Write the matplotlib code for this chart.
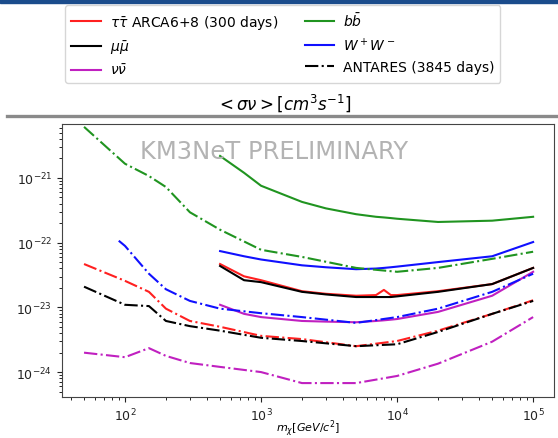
import numpy as np
import matplotlib
matplotlib.use('Agg')
import matplotlib.pyplot as plt
from matplotlib.lines import Line2D
from matplotlib.patches import Rectangle

# ARCA6+8 (300 days) limits, log10 of <sigma v> in cm^3 s^-1
m_arca = [500, 750, 1000, 2000, 3000, 5000, 7000, 8000, 9000, 10000, 20000, 50000, 100000]
arca_tau = [-22.33, -22.52, -22.58, -22.75, -22.79, -22.82, -22.81, -22.73, -22.81, -22.81, -22.75, -22.64, -22.39]
arca_mu = [-22.36, -22.58, -22.61, -22.76, -22.80, -22.84, -22.84, -22.84, -22.84, -22.83, -22.76, -22.64, -22.39]
arca_nu = [-22.96, -23.10, -23.15, -23.21, -23.22, -23.23, -23.21, -23.20, -23.19, -23.18, -23.07, -22.82, -22.45]
arca_b = [-20.66, -20.92, -21.12, -21.37, -21.47, -21.56, -21.60, -21.61, -21.62, -21.63, -21.68, -21.66, -21.60]
arca_w = [-22.13, -22.21, -22.26, -22.35, -22.38, -22.41, -22.40, -22.39, -22.38, -22.37, -22.30, -22.21, -21.99]

# ANTARES (3845 days)
m_ant = [50, 100, 150, 200, 300, 500, 1000, 2000, 5000, 10000, 20000, 50000, 100000]
m_ant_w = [90, 100, 150, 200, 300, 500, 1000, 2000, 5000, 10000, 20000, 50000, 100000]
ant_tau = [-22.33, -22.59, -22.76, -23.02, -23.21, -23.30, -23.44, -23.49, -23.60, -23.52, -23.36, -23.10, -22.89]
ant_mu = [-22.68, -22.96, -22.98, -23.21, -23.29, -23.36, -23.47, -23.52, -23.60, -23.57, -23.38, -23.10, -22.90]
ant_nu = [-23.70, -23.77, -23.63, -23.75, -23.86, -23.92, -24.00, -24.17, -24.17, -24.06, -23.87, -23.53, -23.15]
ant_b = [-20.21, -20.78, -20.97, -21.14, -21.53, -21.80, -22.11, -22.22, -22.39, -22.45, -22.39, -22.25, -22.14]
ant_w = [-21.97, -22.05, -22.48, -22.72, -22.90, -23.02, -23.09, -23.15, -23.24, -23.15, -23.02, -22.76, -22.48]

channels = [r'$\tau\bar{\tau}$ ARCA6+8 (300 days)', r'$\mu\bar{\mu}$', r'$\nu\bar{\nu}$',
            r'$b\bar{b}$', r'$W^+W^-$']
colors = ['#ff2020', 'black', '#c020c0', '#209420', '#1010ff']
x_major = [1e2, 1e3, 1e4, 1e5]
y_major = [1e-24, 1e-23, 1e-22, 1e-21]

fig = plt.figure(figsize=(5.58, 4.39), dpi=100)

# slide decorations
fig.patches.append(Rectangle((0, 0.991), 1, 0.009, transform=fig.transFigure,
                             color='#1b4c8c', zorder=0))
fig.lines.append(Line2D([0.012, 1.0], [0.7335, 0.7335], transform=fig.transFigure,
                        color='#8a8a8a', linewidth=2.4))

ax = fig.add_axes([0.111, 0.0934, 0.882, 0.622])

def p(v):
    return np.power(10.0, v)

for vals, c in zip([arca_tau, arca_mu, arca_nu, arca_b, arca_w], colors):
    ax.plot(m_arca, p(vals), color=c, linewidth=1.5)

ant_vals = [ant_tau, ant_mu, ant_nu, ant_b, ant_w]
ant_mass = [m_ant, m_ant, m_ant, m_ant, m_ant_w]
for mm, vals, c in zip(ant_mass, ant_vals, colors):
    ax.plot(mm, p(vals), color=c, linestyle='-.', linewidth=1.5)

ax.set_xscale('log')
ax.set_yscale('log')
ax.set_xticks(x_major)
ax.set_yticks(y_major)
ax.set_xlim(34.4, 1.426e5)
ax.set_ylim(4.12e-25, 6.84e-21)
ax.tick_params(labelsize=9, colors='#222222')
for s in ax.spines.values():
    s.set_color('#444444')

ax.set_xlabel(r'$m_\chi [GeV/c^2]$', fontsize=8, va='center')
ax.xaxis.set_label_coords(0.5, -0.113)
fig.text(0.491, 0.654, 'KM3NeT PRELIMINARY', fontsize=17.5, color='#b3b3b3',
         ha='center', va='center')
fig.text(0.509, 0.766, r'$<\sigma\nu>[cm^3s^{-1}]$', fontsize=12, ha='center', va='center')

handles = [Line2D([], [], color=c, linewidth=1.5) for c in colors]
handles.append(Line2D([], [], color='black', linestyle='-.', linewidth=1.5))
labels = channels + ['ANTARES (3845 days)']
fig.legend(handles, labels, ncol=2, fontsize=10, loc='center',
           bbox_to_anchor=(0.507, 0.897), columnspacing=1.9,
           handlelength=2.15, handletextpad=0.65)

fig.savefig('out.png', dpi=100)
